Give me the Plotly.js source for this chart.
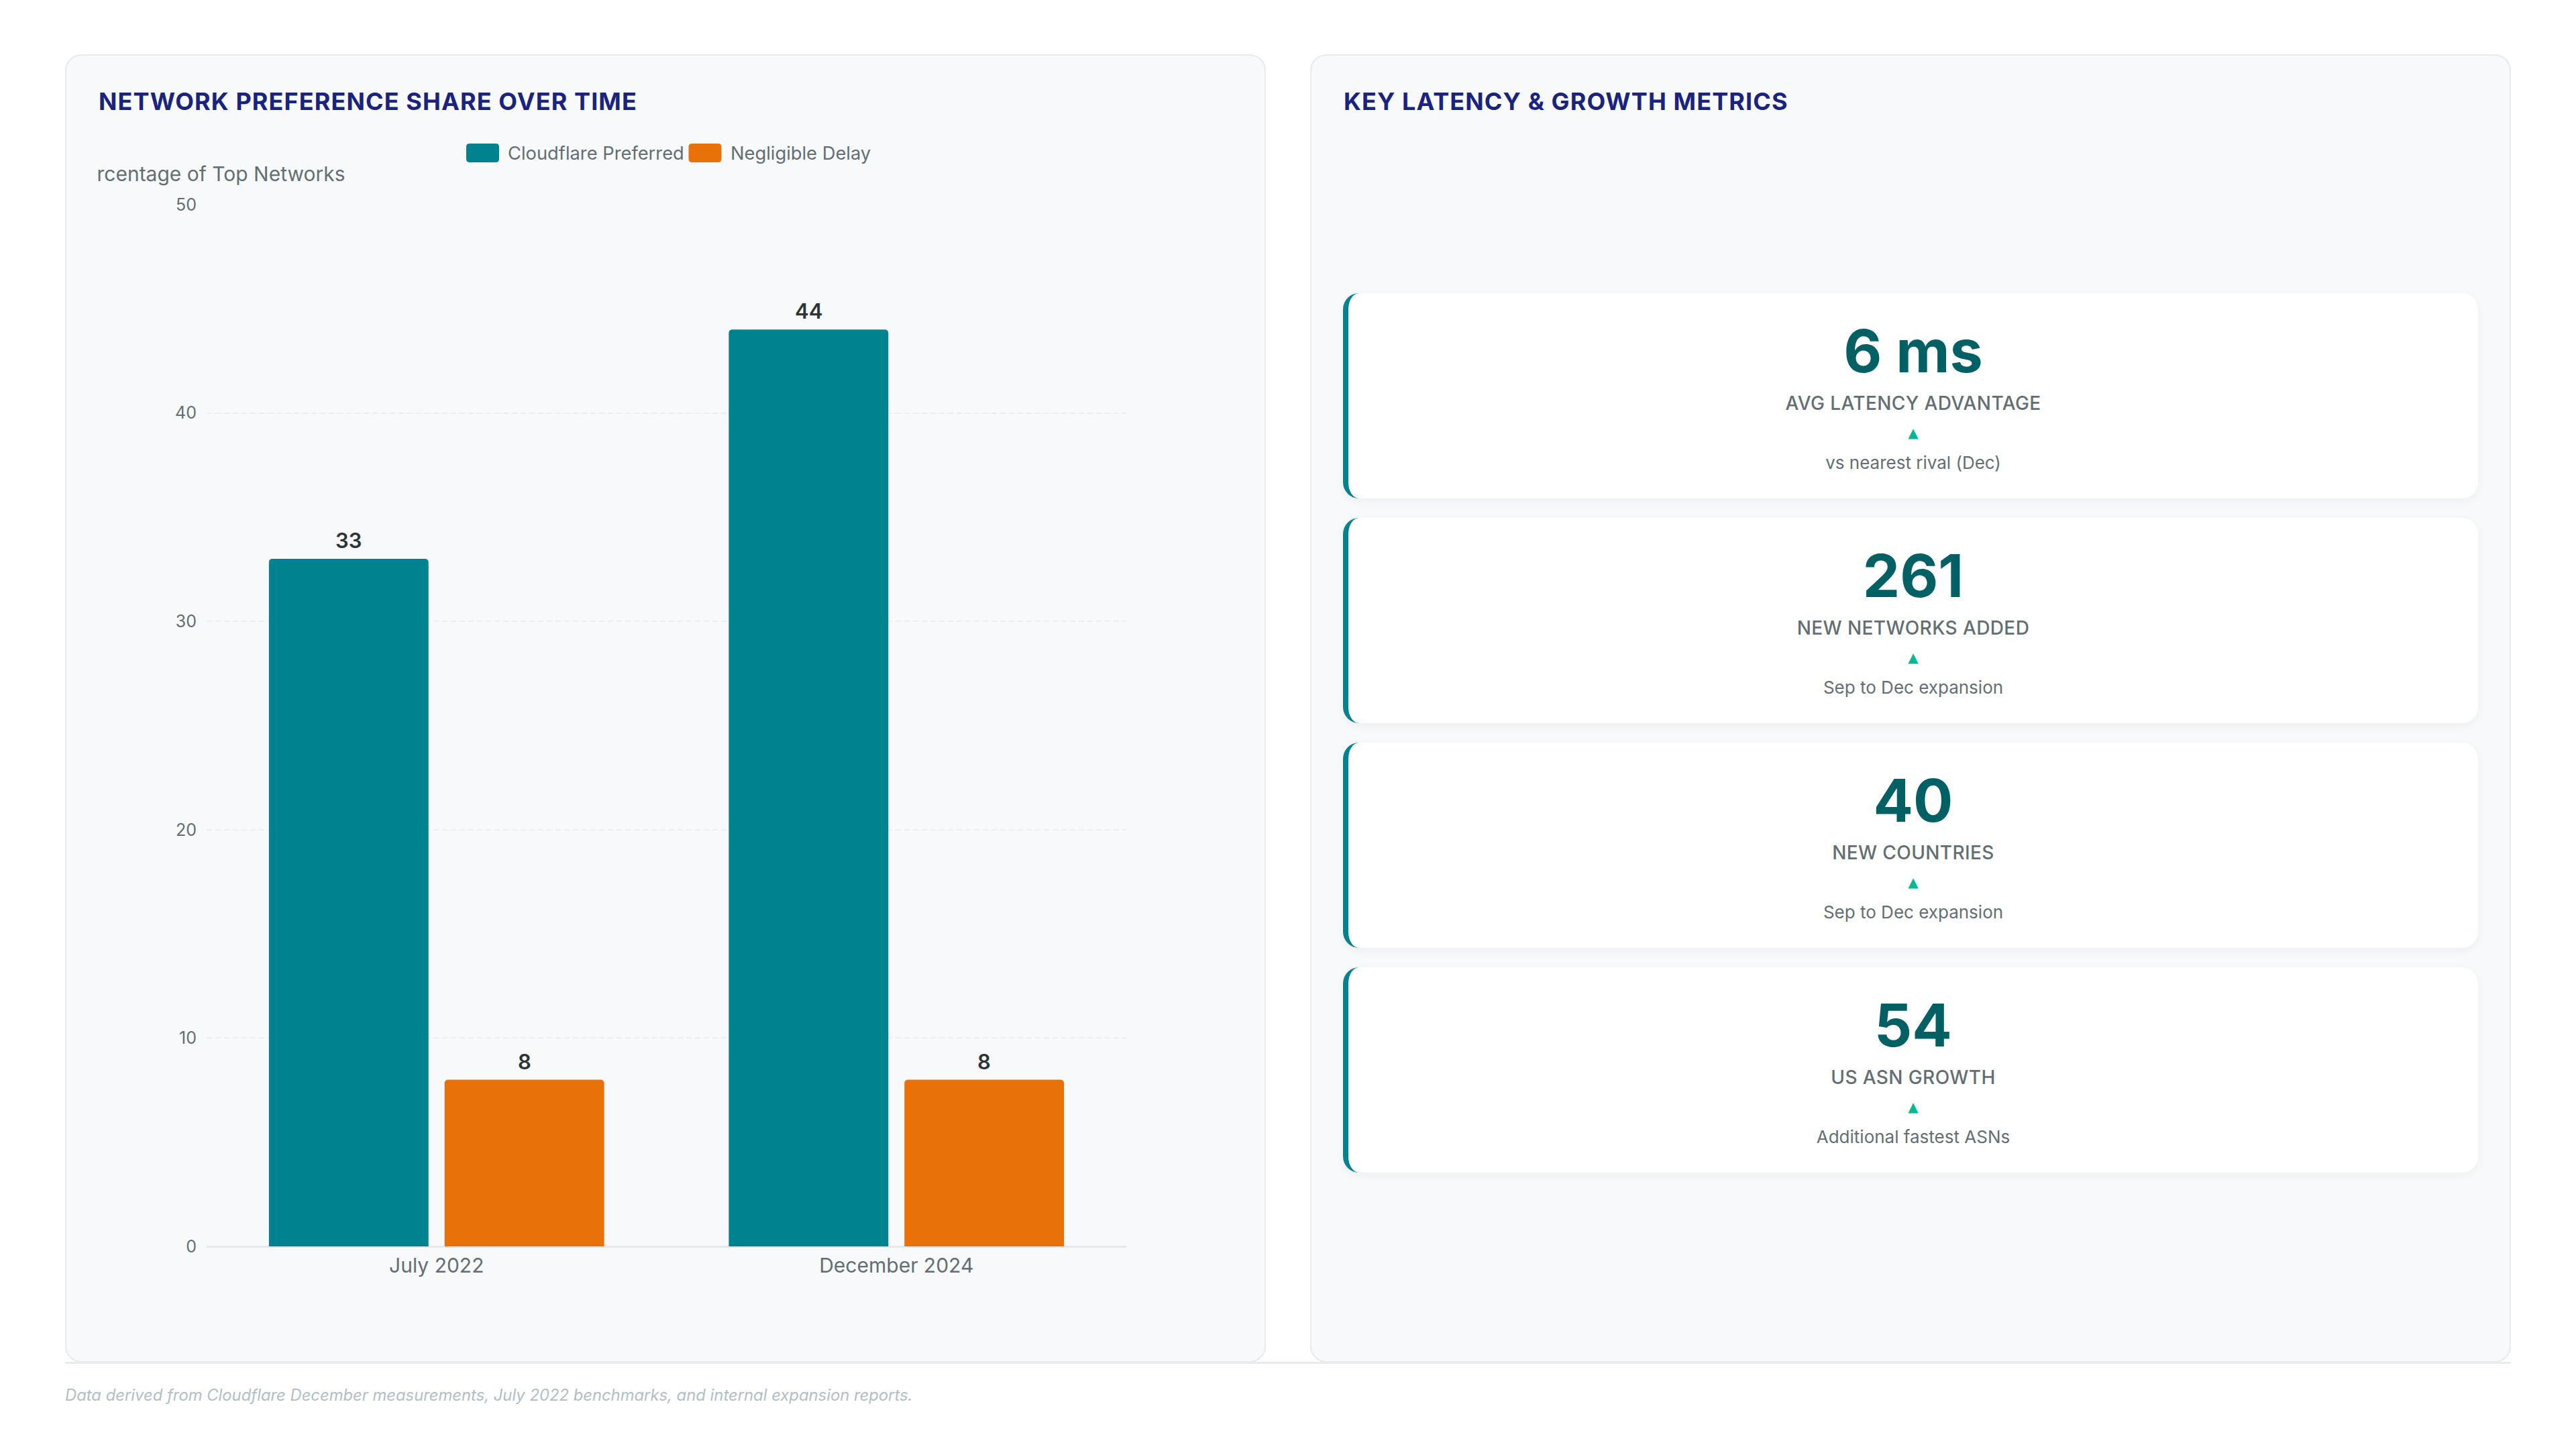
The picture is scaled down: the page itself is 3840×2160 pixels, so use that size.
<!DOCTYPE html>
<html>
<head>
<meta charset="utf-8">
<script src="https://cdn.plot.ly/plotly-3.0.1.min.js"></script>
<style>
  html, body { margin: 0; padding: 0; }
  body { width: 3840px; height: 2160px; background: #ffffff; position: relative; overflow: hidden; font-family: Inter, "Noto Sans", sans-serif; }
  .panel { position: absolute; top: 81px; width: 1790px; height: 1950px; box-sizing: border-box; background: #f8f9fb; border: 2px solid #e8eaed; border-radius: 24px; }
  .ptitle { position: absolute; left: 48px; top: 46px; font-size: 36px; font-weight: 700; color: #1a237e; letter-spacing: 1.1px; line-height: 44px; white-space: nowrap; }
  #chart { position: absolute; left: 146px; top: 190px; width: 1694px; height: 1790px; overflow: hidden; }
  .baseline { position: absolute; left: 97px; top: 2030px; width: 3646px; height: 3px; background: #e8eaed; }
  .kpi { position: absolute; left: 2002px; width: 1692px; height: 306px; box-sizing: border-box; background: #ffffff; border-left: 8px solid #00838f; border-radius: 24px; box-shadow: 0 4px 14px rgba(30,40,60,0.05); }
  .kpi div { position: absolute; left: 0; right: 0; text-align: center; white-space: nowrap; }
  .kv { top: 42px; font-size: 88px; line-height: 88px; font-weight: 700; color: #006064; }
  .kl { top: 150px; font-size: 28px; line-height: 28px; font-weight: 500; color: #636e72; letter-spacing: 0.4px; }
  .kt { top: 198px; font-size: 20px; line-height: 20px; color: #00b894; font-family: "DejaVu Sans", sans-serif; }
  .kn { top: 240px; font-size: 26px; line-height: 26px; color: #636e72; }
  .footer { position: absolute; left: 97px; top: 2065px; font-size: 23.8px; line-height: 30px; font-style: italic; color: #b2bec3; white-space: nowrap; }
</style>
</head>
<body>
<div class="panel" style="left:97px;"><div class="ptitle">NETWORK PREFERENCE SHARE OVER TIME</div></div>
<div class="panel" style="left:1953px;"><div class="ptitle">KEY LATENCY &amp; GROWTH METRICS</div></div>
<div class="baseline"></div>
<div id="chart"></div>
<div id="kpis"></div>
<div class="footer">Data derived from Cloudflare December measurements, July 2022 benchmarks, and internal expansion reports.</div>
<script>
// ---- data ----
const categories = ['July 2022', 'December 2024'];
const cloudflarePreferred = [33, 44];
const negligibleDelay = [8, 8];
const seriesNames = ['Cloudflare Preferred', 'Negligible Delay'];
const seriesColors = ['#00838f', '#e8710a'];
const yTickValues = [0, 10, 20, 30, 40, 50];
const yAxisTitle = 'Percentage of Top Networks';

const kpiValues = ['6 ms', '261', '40', '54'];
const kpiLabels = ['AVG LATENCY ADVANTAGE', 'NEW NETWORKS ADDED', 'NEW COUNTRIES', 'US ASN GROWTH'];
const kpiNotes = ['vs nearest rival (Dec)', 'Sep to Dec expansion', 'Sep to Dec expansion', 'Additional fastest ASNs'];

// ---- chart ----
const W = 1694, H = 1790;
const M = {l: 162, r: 161, t: 115, b: 122};
const plotW = W - M.l - M.r, plotH = H - M.t - M.b;
const chartLeft = 146, chartTop = 190;
function px2x(px) { return (px - chartLeft - M.l) / plotW; }
function px2y(py) { return 1 - (py - chartTop - M.t) / plotH; }

const seriesValues = [cloudflarePreferred, negligibleDelay];
const traces = seriesValues.map((vals, i) => ({
  type: 'bar',
  name: seriesNames[i],
  x: categories,
  y: vals,
  marker: {color: seriesColors[i], cornerradius: 5, line: {width: 0}},
  showlegend: false,
  hoverinfo: 'none'
}));

// custom legend (large rounded swatches)
const legendY = px2y(228);
const legendItems = [
  {swatch: 719.5, text: 755},
  {swatch: 1051, text: 1087}
];
const swPath = 'M -19.5,-14 H 19.5 Q 24.5,-14 24.5,-9 V 9 Q 24.5,14 19.5,14 H -19.5 Q -24.5,14 -24.5,9 V -9 Q -24.5,-14 -19.5,-14 Z';
const shapes = legendItems.map((it, i) => ({
  type: 'path', xref: 'paper', yref: 'paper',
  xsizemode: 'pixel', ysizemode: 'pixel',
  xanchor: px2x(it.swatch), yanchor: legendY,
  path: swPath, fillcolor: seriesColors[i], line: {width: 0}
}));
const annotations = legendItems.map((it, i) => ({
  xref: 'paper', yref: 'paper', x: px2x(it.text), y: legendY,
  xanchor: 'left', yanchor: 'middle', showarrow: false,
  text: seriesNames[i], font: {family: 'Inter', size: 27.3, color: '#636e72'}
}));
annotations.push({
  xref: 'paper', yref: 'paper', x: px2x(517), y: px2y(259),
  xanchor: 'right', yanchor: 'middle', showarrow: false,
  text: yAxisTitle, font: {family: 'Inter', size: 30, color: '#636e72'}
});
// value labels above bars, placed on the bar scale
const groupOffset = 131;
seriesValues.forEach((vals, i) => {
  vals.forEach((v, j) => {
    annotations.push({
      xref: 'x', yref: 'y', x: categories[j], y: v,
      xshift: (i === 0 ? -1 : 1) * groupOffset, yshift: 7,
      xanchor: 'center', yanchor: 'bottom', showarrow: false,
      text: String(v), font: {family: 'Inter', size: 31, color: '#2d3436', weight: 600}
    });
  });
});

const layout = {
  width: W, height: H,
  margin: M,
  paper_bgcolor: 'rgba(0,0,0,0)',
  plot_bgcolor: 'rgba(0,0,0,0)',
  barmode: 'group',
  bargap: 0.236,
  bargroupgap: 0.0916,
  font: {family: 'Inter', color: '#636e72'},
  xaxis: {
    type: 'category', showgrid: false, showline: false, zeroline: false, ticks: '',
    tickfont: {size: 30, color: '#636e72'}, ticklabelstandoff: 8, fixedrange: true
  },
  yaxis: {
    range: [0, 50], tickvals: yTickValues, ticks: '', showline: false,
    showgrid: true, gridcolor: '#eceef1', gridwidth: 2, griddash: '8px,5px',
    zeroline: true, zerolinecolor: '#e6e8eb', zerolinewidth: 3,
    tickfont: {size: 25, color: '#636e72'}, ticklabelstandoff: 14, fixedrange: true
  },
  shapes: shapes,
  annotations: annotations,
  showlegend: false
};
Plotly.newPlot('chart', traces, layout, {displayModeBar: false, staticPlot: true});

// ---- KPI cards ----
const kpiTops = [437, 772, 1107, 1442];
const host = document.getElementById('kpis');
kpiValues.forEach((v, i) => {
  const card = document.createElement('div');
  card.className = 'kpi';
  card.style.top = kpiTops[i] + 'px';
  const a = document.createElement('div'); a.className = 'kv'; a.textContent = v;
  const b = document.createElement('div'); b.className = 'kl'; b.textContent = kpiLabels[i];
  const c = document.createElement('div'); c.className = 'kt'; c.textContent = '\u25B2';
  const d = document.createElement('div'); d.className = 'kn'; d.textContent = kpiNotes[i];
  card.append(a, b, c, d);
  host.appendChild(card);
});
</script>
</body>
</html>
